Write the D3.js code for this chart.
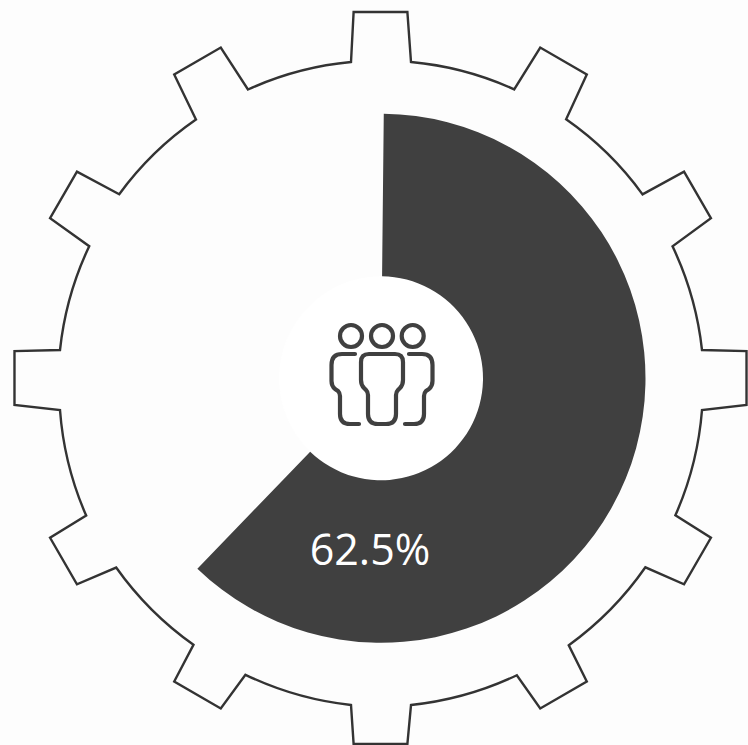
<!DOCTYPE html>
<html><head><meta charset="utf-8">
<script src="https://cdn.jsdelivr.net/npm/d3@7"></script>
<style>html,body{margin:0;padding:0;background:#fdfdfd}svg{display:block}</style>
</head><body><div id="c"></div>
<script>
const categories = ["Filled", "Remaining"];
const seriesValues = [62.5, 37.5];
const valueLabels = ["62.5%"];
const toothAngles = [0,30,60,90,120,150,180,210,240,270,300,330];
const toothBaseRadii = [319.4,319.7,320.7,322.4,324,325,326.4,324.5,324.5,322.4,321,319.5];
const W = 748, H = 745;
const svg = d3.select("#c").append("svg").attr("width",W).attr("height",H);
svg.append("rect").attr("width",W).attr("height",H).attr("fill","#fdfdfd");
const rad = d3.scaleLinear().domain([0,360]).range([0,2*Math.PI]);

// gear outline
const tipR=367, tipHalf=4.2, baseHalfWidth=30;
const polar=(c,r,a)=>[c[0]+r*Math.sin(rad(a)), c[1]-r*Math.cos(rad(a))];
const baseC=[381,380], tipC=[380.5,378];
let d="";
toothAngles.forEach((a,i)=>{
  const r=toothBaseRadii[i];
  const h=Math.asin(baseHalfWidth/r)*180/Math.PI;
  const b0=polar(baseC,r,a-h),t0=polar(tipC,tipR,a-tipHalf),t1=polar(tipC,tipR,a+tipHalf),b1=polar(baseC,r,a+h);
  d+= (i===0?"M":`A${r} ${r} 0 0 1 `)+b0.join(" ");
  d+=`L${t0.join(" ")}L${t1.join(" ")}L${b1.join(" ")}`;
});
{
  const r=toothBaseRadii[0],h=Math.asin(baseHalfWidth/r)*180/Math.PI;
  d+=`A${r} ${r} 0 0 1 `+polar(baseC,r,-h).join(" ")+"Z";
}
svg.append("path").attr("d",d).attr("fill","none").attr("stroke","#333").attr("stroke-width",2.4).attr("stroke-linejoin","miter");

// donut
const cx=381, cy=378.3;
const chart = svg.append("g").attr("transform",`translate(${cx},${cy})`);
const pie = d3.pie().sort(null).startAngle(rad(0.6)).endAngle(rad(358));
const arc = d3.arc().innerRadius(102).outerRadius(264.5);
const arcs = pie(seriesValues);
chart.append("circle").attr("r",102).attr("fill","#fff");
chart.selectAll("path.slice").data(arcs.slice(0,1)).join("path").attr("class","slice")
  .attr("d",arc).attr("fill","#404040");
svg.append("text").attr("x",370).attr("y",565).attr("text-anchor","middle")
  .attr("font-family","'Open Sans'").attr("font-size",43).attr("fill","#fff").text(valueLabels[0]);

// people icon
const icon = svg.append("g").attr("fill","none").attr("stroke","#404040").attr("stroke-width",4.2).attr("stroke-linecap","round").attr("stroke-linejoin","round");
[351,382,412.7].forEach(x=>icon.append("circle").attr("cx",x).attr("cy",336).attr("r",11));
icon.append("path").attr("d","M369 354H395Q403 354 403 362V380Q403 385 400 388L398 390Q396 392 396 395V414Q396 424 386 424H378Q368 424 368 414V395Q368 392 366 390L364 388Q361 385 361 380V362Q361 354 369 354Z");
icon.append("path").attr("d","M355 354H342Q331.500 354 331.500 365V381Q331.500 386 335 389L338 391Q340 393 340 396V414Q340 424 350 424H359");
icon.append("path").attr("d","M409 354H422Q432.500 354 432.500 365V381Q432.500 386 429 389L426 391Q424 393 424 396V414Q424 424 414 424H405");
</script></body></html>
